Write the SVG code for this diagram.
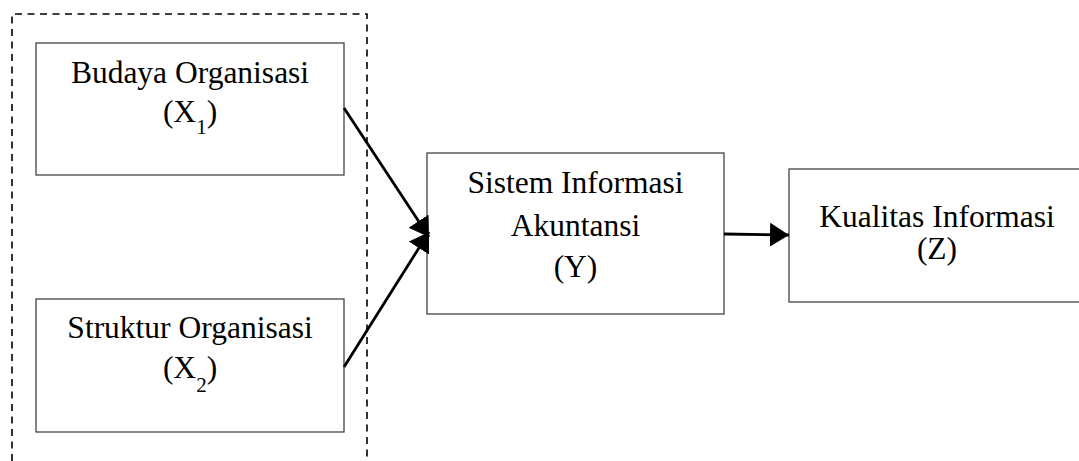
<svg xmlns="http://www.w3.org/2000/svg" width="1079" height="461" viewBox="0 0 1079 461">
  <style>
    .box { fill: #ffffff; stroke: #444444; stroke-width: 1.3; }
    .lbl { font-family: "Liberation Serif", "Times New Roman", serif; font-size: 31.5px; fill: #000000; text-anchor: middle; }
    .sub { font-size: 21px; }
    .conn { stroke: #000000; stroke-width: 2.8; fill: none; marker-end: url(#arrow); }
    .dash { stroke: #000000; stroke-width: 1.6; fill: none; stroke-dasharray: 7 5.5; }
  </style>
  <defs>
    <marker id="arrow" markerUnits="userSpaceOnUse" markerWidth="20" markerHeight="24" refX="19" refY="12" orient="auto">
      <path d="M0,0 L19,12 L0,24 z" fill="#000000"/>
    </marker>
  </defs>
  <rect width="1079" height="461" fill="#ffffff"/>

  <g id="group-x">
    <path class="dash" d="M12,461 V14 H367 V461"/>
  </g>

  <g id="node-x1">
    <rect class="box" x="36" y="43" width="308" height="132"/>
    <text class="lbl" x="190" y="83.3">Budaya Organisasi</text>
    <text class="lbl" x="190" y="121.7">(X<tspan class="sub" dy="12">1</tspan><tspan dy="-12">)</tspan></text>
  </g>

  <g id="node-x2">
    <rect class="box" x="36" y="299" width="308" height="133"/>
    <text class="lbl" x="190" y="338.3">Struktur Organisasi</text>
    <text class="lbl" x="190" y="378.3">(X<tspan class="sub" dy="14">2</tspan><tspan dy="-14">)</tspan></text>
  </g>

  <g id="node-y">
    <rect class="box" x="427" y="153" width="297" height="161"/>
    <text class="lbl" x="575.5" y="193.3">Sistem Informasi</text>
    <text class="lbl" x="575.5" y="236">Akuntansi</text>
    <text class="lbl" x="575.5" y="277.3">(Y)</text>
  </g>

  <g id="node-z">
    <rect class="box" x="789" y="169" width="300" height="133"/>
    <text class="lbl" x="937" y="226.7">Kualitas Informasi</text>
    <text class="lbl" x="937" y="259.3">(Z)</text>
  </g>

  <g id="connectors">
    <line class="conn" x1="344" y1="108" x2="429" y2="237"/>
    <line class="conn" x1="344" y1="367" x2="429" y2="232"/>
    <line class="conn" x1="724" y1="234" x2="789" y2="235"/>
  </g>
</svg>
